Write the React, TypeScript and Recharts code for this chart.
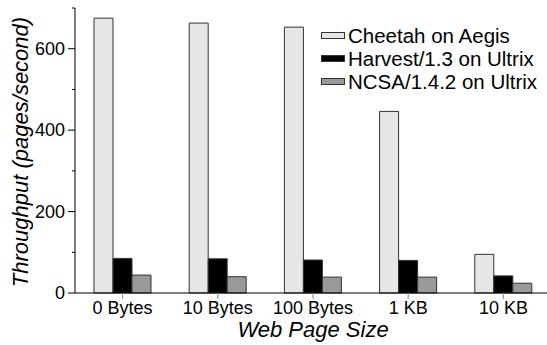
import React from 'react';
import { Bar, BarChart, Legend, XAxis, YAxis } from 'recharts';

const categories = ['0 Bytes', '10 Bytes', '100 Bytes', '1 KB', '10 KB'];
const cheetah = [675, 663, 653, 446, 95];
const harvest = [85, 84, 81, 80, 42];
const ncsa = [44, 40, 39, 39, 24];
const yTicks = [0, 100, 200, 300, 400, 500, 600, 700];
const yLabels = [0, 200, 400, 600];

const FONT = '"Liberation Sans", Arial, sans-serif';

const chartData = categories.map((name, i) => ({
  name,
  cheetah: cheetah[i],
  harvest: harvest[i],
  ncsa: ncsa[i],
}));

const YTick = ({ x, y, payload }: any) => {
  const major = yLabels.includes(payload.value);
  return (
    <g>
      <line x1={x - (major ? 7 : 3)} x2={x} y1={y} y2={y} stroke="#000" />
      {major && (
        <text x={x - 10} y={y} dy="0.35em" textAnchor="end" fontSize={18} fontFamily={FONT} fill="#000">
          {payload.value}
        </text>
      )}
    </g>
  );
};

const XTick = ({ x, y, payload }: any) => (
  <g>
    <line x1={x} x2={x} y1={y} y2={y + 6} stroke="#888" />
    <text x={x} y={y + 21} textAnchor="middle" fontSize={18} fontFamily={FONT} fill="#000">
      {payload.value}
    </text>
  </g>
);

const LegendBox = ({ payload }: any) => (
  <div style={{ fontFamily: FONT, fontSize: 20.5, color: '#000' }}>
    {payload.map((entry: any, index: number) => (
      <div key={index} style={{ display: 'flex', alignItems: 'center', height: 23 }}>
        <div
          style={{
            width: 22,
            height: 5,
            background: entry.color,
            border: '1px solid #333',
            marginRight: 3,
          }}
        />
        <span>{entry.value}</span>
      </div>
    ))}
  </div>
);

export default function App() {
  return (
    <div style={{ position: 'absolute', left: 0, top: 0, width: 547, height: 345, overflow: 'hidden', background: '#fff' }}>
      <BarChart
        width={551}
        height={345}
        data={chartData}
        margin={{ top: 8, right: 0, bottom: 0, left: 0 }}
        barCategoryGap="20%"
        barGap={0}
      >
        <XAxis
          dataKey="name"
          height={52}
          tickSize={0}
          tickMargin={0}
          tick={<XTick />}
          tickLine={false}
          axisLine={{ stroke: '#000' }}
          label={{
            content: () => (
              <text x={313} y={337} textAnchor="middle" fontSize={22} fontStyle="italic" fontFamily={FONT} fill="#000">
                Web Page Size
              </text>
            ),
          }}
        />
        <YAxis
          width={75}
          domain={[0, 700]}
          ticks={yTicks}
          interval={0}
          tickSize={0}
          tickMargin={0}
          tick={<YTick />}
          tickLine={false}
          axisLine={{ stroke: '#000' }}
          label={{
            content: () => (
              <text
                x={28}
                y={152}
                transform="rotate(-90 28 152)"
                textAnchor="middle"
                fontSize={22}
                fontStyle="italic"
                fontFamily={FONT}
                fill="#000"
              >
                Throughput (pages/second)
              </text>
            ),
          }}
        />
        <Legend
          layout="vertical"
          align="center"
          verticalAlign="middle"
          wrapperStyle={{ top: 24, left: 321, width: 'auto' }}
          content={<LegendBox />}
        />
        <Bar dataKey="cheetah" name="Cheetah on Aegis" fill="#e6e6e6" stroke="#333" barSize={19} isAnimationActive={false} />
        <Bar dataKey="harvest" name="Harvest/1.3 on Ultrix" fill="#000000" stroke="#333" barSize={19} isAnimationActive={false} />
        <Bar dataKey="ncsa" name="NCSA/1.4.2 on Ultrix" fill="#999999" stroke="#333" barSize={19} isAnimationActive={false} />
      </BarChart>
    </div>
  );
}
